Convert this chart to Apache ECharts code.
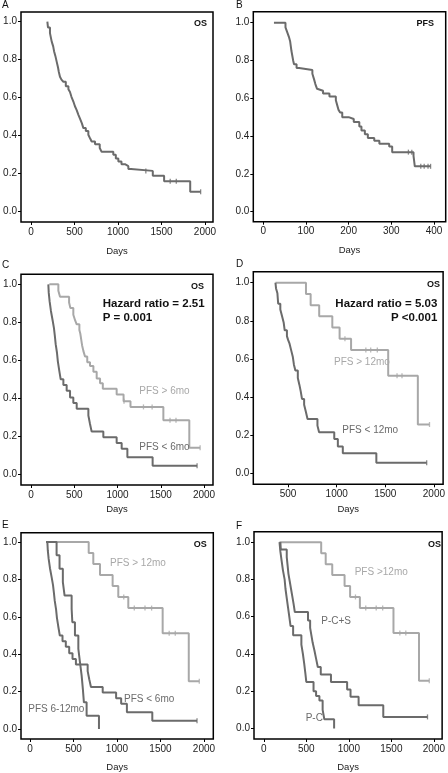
<!DOCTYPE html>
<html>
<head>
<meta charset="utf-8">
<script src="https://cdn.jsdelivr.net/npm/echarts@6/dist/echarts.min.js"></script>
<style>
html,body{margin:0;padding:0;background:#fff;}
#chart{width:448px;height:773px;}
</style>
</head>
<body>
<div id="chart"></div>
<script>
// ---------- DATA (days, survival) ----------
const osAll = [[188,1.0],[195,0.97],[218,0.94],[238,0.895],[255,0.87],[265,0.845],[280,0.82],[295,0.79],[310,0.76],[320,0.735],[333,0.71],[350,0.695],[372,0.684],[400,0.66],[430,0.645],[448,0.63],[465,0.605],[487,0.58],[505,0.555],[525,0.535],[545,0.51],[563,0.49],[585,0.465],[602,0.44],[630,0.425],[659,0.405],[680,0.385],[697,0.37],[736,0.355],[790,0.335],[812,0.315],[946,0.30],[975,0.28],[1004,0.265],[1040,0.25],[1080,0.24],[1119,0.225],[1150,0.215],[1400,0.19],[1530,0.16],[1830,0.105],[1950,0.105]];
const osAllCens = [[1320,0.215],[1600,0.16],[1670,0.16],[1950,0.105]];

const pfsAll = [[25,1.0],[52,0.975],[56,0.95],[60,0.925],[63,0.90],[66,0.85],[68,0.825],[70,0.80],[72,0.78],[78,0.76],[84,0.75],[115,0.73],[119,0.70],[122,0.675],[126,0.65],[130,0.64],[140,0.625],[155,0.61],[170,0.59],[173,0.565],[176,0.54],[180,0.525],[185,0.50],[200,0.49],[212,0.475],[225,0.45],[230,0.43],[238,0.41],[245,0.39],[260,0.375],[272,0.36],[295,0.345],[302,0.315],[352,0.295],[355,0.24],[392,0.24]];
const pfsAllCens = [[340,0.315],[348,0.315],[369,0.24],[377,0.24],[386,0.24],[392,0.24]];

const osPfsOver6 = [[212,1.0],[316,0.967],[335,0.935],[440,0.905],[455,0.875],[489,0.84],[510,0.81],[528,0.79],[559,0.76],[570,0.74],[580,0.71],[590,0.68],[605,0.65],[624,0.62],[650,0.59],[682,0.57],[721,0.54],[759,0.505],[798,0.48],[830,0.45],[990,0.42],[1070,0.385],[1150,0.355],[1530,0.285],[1830,0.14],[1955,0.14]];
const osPfsOver6Cens = [[1075,0.385],[1300,0.355],[1400,0.355],[1607,0.285],[1676,0.285],[1955,0.14]];

const osPfsUnder6 = [[200,1.0],[205,0.955],[215,0.91],[230,0.86],[250,0.81],[265,0.77],[275,0.73],[285,0.685],[300,0.64],[310,0.595],[325,0.55],[343,0.50],[374,0.47],[412,0.44],[451,0.405],[489,0.375],[528,0.345],[663,0.31],[682,0.265],[701,0.225],[836,0.195],[990,0.165],[1048,0.135],[1114,0.09],[1406,0.045],[1920,0.045]];
const osPfsUnder6Cens = [[1920,0.045]];

const dPfsOver12 = [[370,1.0],[684,0.941],[732,0.882],[820,0.824],[955,0.765],[1030,0.706],[1148,0.647],[1530,0.512],[1835,0.256],[1955,0.256]];
const dPfsOver12Cens = [[1085,0.706],[1300,0.647],[1350,0.647],[1418,0.647],[1621,0.512],[1672,0.512],[1955,0.256]];
const dPfsUnder12 = [[370,1.0],[376,0.97],[390,0.945],[398,0.89],[420,0.86],[440,0.82],[455,0.79],[465,0.75],[488,0.72],[500,0.70],[515,0.68],[532,0.645],[549,0.61],[560,0.57],[575,0.54],[600,0.50],[616,0.465],[630,0.43],[643,0.39],[665,0.36],[684,0.32],[700,0.285],[802,0.25],[819,0.215],[975,0.18],[1012,0.14],[1063,0.105],[1408,0.055],[1926,0.055]];
const dPfsUnder12Cens = [[1926,0.055]];

const osPfsOver12 = [[185,1.0],[675,0.941],[728,0.882],[805,0.824],[950,0.765],[1015,0.706],[1130,0.647],[1525,0.512],[1825,0.256],[1946,0.256]];
const osPfsOver12Cens = [[1078,0.706],[1199,0.647],[1322,0.647],[1398,0.647],[1600,0.512],[1670,0.512],[1946,0.256]];
const osPfs6to12 = [[185,1.0],[306,0.929],[340,0.857],[378,0.786],[398,0.714],[479,0.643],[487,0.571],[517,0.5],[556,0.429],[575,0.357],[594,0.286],[608,0.214],[620,0.143],[651,0.071],[793,0.0]];

const osPC = [[185,1.0],[195,0.95],[210,0.90],[225,0.85],[245,0.80],[255,0.75],[270,0.70],[285,0.65],[300,0.60],[315,0.55],[345,0.50],[442,0.45],[460,0.40],[475,0.35],[488,0.30],[500,0.25],[585,0.20],[615,0.175],[654,0.15],[692,0.10],[712,0.05],[827,0.0]];
const osPCS = [[195,1.0],[200,0.96],[270,0.92],[280,0.875],[290,0.83],[305,0.79],[320,0.75],[335,0.71],[350,0.67],[365,0.625],[520,0.58],[545,0.54],[560,0.50],[575,0.46],[595,0.42],[615,0.375],[635,0.33],[670,0.29],[790,0.25],[980,0.21],[1020,0.17],[1115,0.125],[1405,0.0625],[1925,0.0625]];
const osPCSCens = [[1925,0.0625]];

const yTicks = [0,0.2,0.4,0.6,0.8,1.0];
const dayTicks2000 = [0,500,1000,1500,2000];
const dayTicksD = [500,1000,1500,2000];
const dayTicks400 = [0,100,200,300,400];

// ---------- STYLE / LAYOUT ----------
const DARK = '#6b6b6b';
const LIGHT = '#a8a8a8';
const FONT = '"Liberation Sans", Arial, Helvetica, sans-serif';
const NARROW = '"Liberation Sans Narrow", "Arial Narrow", "Liberation Sans", Arial, sans-serif';

const panels = [
  {left:21, top:12, width:192, height:210, x:[-115,2092], y:[-0.054,1.051], xt:dayTicks2000, gap:24},
  {left:253.3, top:11.7, width:192.4, height:210, x:[-23.4,427.4], y:[-0.053,1.058], xt:dayTicks400, gap:24},
  {left:21, top:274.3, width:192, height:210.7, x:[-116,2104], y:[-0.056,1.053], xt:dayTicks2000, gap:19},
  {left:253.3, top:271.7, width:192.4, height:212.6, x:[142,2095], y:[-0.058,1.058], xt:dayTicksD, gap:20},
  {left:21, top:532.7, width:192.3, height:209.6, x:[-103,2107], y:[-0.053,1.05], xt:dayTicks2000, gap:23},
  {left:254, top:531.7, width:191.7, height:210.6, x:[-115,2097], y:[-0.056,1.056], xt:dayTicks2000, gap:23}
];

const grid = panels.map(p => ({left:p.left, top:p.top, width:p.width, height:p.height, show:true, borderColor:'#000', borderWidth:1.5, backgroundColor:'transparent'}));
const xAxis = panels.map((p,i) => ({
  type:'value', gridIndex:i, min:p.x[0], max:p.x[1], position:'bottom',
  name:'Days', nameLocation:'middle', nameGap:p.gap,
  nameTextStyle:{fontFamily:FONT, fontSize:9.5, color:'#222'},
  axisLine:{show:false, onZero:false}, splitLine:{show:false},
  axisTick:{show:true, customValues:p.xt, length:3, lineStyle:{color:'#000', width:1}},
  axisLabel:{customValues:p.xt, margin:5, fontFamily:NARROW, fontSize:10, color:'#222', formatter:v=>String(v)}
}));
const yAxis = panels.map((p,i) => ({
  type:'value', gridIndex:i, min:p.y[0], max:p.y[1], position:'left',
  axisLine:{show:false, onZero:false}, splitLine:{show:false},
  axisTick:{show:true, customValues:yTicks, length:3, lineStyle:{color:'#000', width:1}},
  axisLabel:{customValues:yTicks, margin:4, fontFamily:NARROW, fontSize:10, color:'#222', formatter:v=>v.toFixed(1)}
}));

function km(data, i, color){
  return {type:'line', xAxisIndex:i, yAxisIndex:i, data:data, step:'end', showSymbol:false, symbol:'none', clip:false,
    lineStyle:{color:color, width:2}, itemStyle:{color:color}, silent:true, animation:false, z:color===DARK?3:2};
}
function cens(data, i, color){
  return {type:'scatter', xAxisIndex:i, yAxisIndex:i, data:data, symbol:'rect', symbolSize:[1.3,5], clip:false,
    itemStyle:{color:color}, silent:true, animation:false, z:color===DARK?4:3};
}

const series = [
  km(osAll,0,DARK), cens(osAllCens,0,DARK),
  km(pfsAll,1,DARK), cens(pfsAllCens,1,DARK),
  km(osPfsOver6,2,LIGHT), cens(osPfsOver6Cens,2,LIGHT),
  km(osPfsUnder6,2,DARK), cens(osPfsUnder6Cens,2,DARK),
  km(dPfsOver12,3,LIGHT), cens(dPfsOver12Cens,3,LIGHT),
  km(dPfsUnder12,3,DARK), cens(dPfsUnder12Cens,3,DARK),
  km(osPfsOver12,4,LIGHT), cens(osPfsOver12Cens,4,LIGHT),
  km(osPfsUnder6,4,DARK), cens(osPfsUnder6Cens,4,DARK),
  km(osPfs6to12,4,DARK),
  km(osPfsOver12,5,LIGHT), cens(osPfsOver12Cens,5,LIGHT),
  km(osPCS,5,DARK), cens(osPCSCens,5,DARK),
  km(osPC,5,DARK)
];

function txt(s, x, y, opt){
  opt = opt || {};
  return {type:'text', x:x, y:y, silent:true, z:10, style:{text:s, fill:opt.fill||'#111',
    font:(opt.bold?'bold ':'')+(opt.size||10)+'px '+FONT, textAlign:opt.align||'left', textVerticalAlign:'middle'}};
}
const graphic = [
  txt('A',2,5.5,{size:10}), txt('B',236,5.5,{size:10}), txt('C',2,265,{size:10}),
  txt('D',236,264,{size:10}), txt('E',2,525,{size:10}), txt('F',236,526,{size:10}),
  txt('OS',207,23.5,{bold:true,size:9,align:'right'}),
  txt('PFS',434,23.5,{bold:true,size:9,align:'right'}),
  txt('OS',204,286.5,{bold:true,size:9,align:'right'}),
  txt('OS',440,285,{bold:true,size:9,align:'right'}),
  txt('OS',206.7,545,{bold:true,size:9,align:'right'}),
  txt('OS',441,545,{bold:true,size:9,align:'right'}),
  txt('Hazard ratio = 2.51',102.7,303.8,{bold:true,size:11.5}),
  txt('P = 0.001',102.7,318,{bold:true,size:11.5}),
  txt('Hazard ratio = 5.03',437.3,303.8,{bold:true,size:11.5,align:'right'}),
  txt('P <0.001',437.3,318,{bold:true,size:11.5,align:'right'}),
  txt('PFS > 6mo',139.3,391,{fill:LIGHT}),
  txt('PFS < 6mo',139.3,447.5,{fill:DARK}),
  txt('PFS > 12mo',334,362.5,{fill:LIGHT}),
  txt('PFS < 12mo',342.3,430,{fill:DARK}),
  txt('PFS > 12mo',110,563.7,{fill:LIGHT}),
  txt('PFS < 6mo',124,699,{fill:DARK}),
  txt('PFS 6-12mo',28.3,709.7,{fill:DARK}),
  txt('PFS >12mo',354.7,572,{fill:LIGHT}),
  txt('P-C+S',321.3,621,{fill:DARK}),
  txt('P-C',305.7,718,{fill:DARK})
];

const chart = echarts.init(document.getElementById('chart'), null, {renderer:'canvas'});
chart.setOption({animation:false, backgroundColor:'#fff', grid, xAxis, yAxis, series, graphic});
</script>
</body>
</html>
